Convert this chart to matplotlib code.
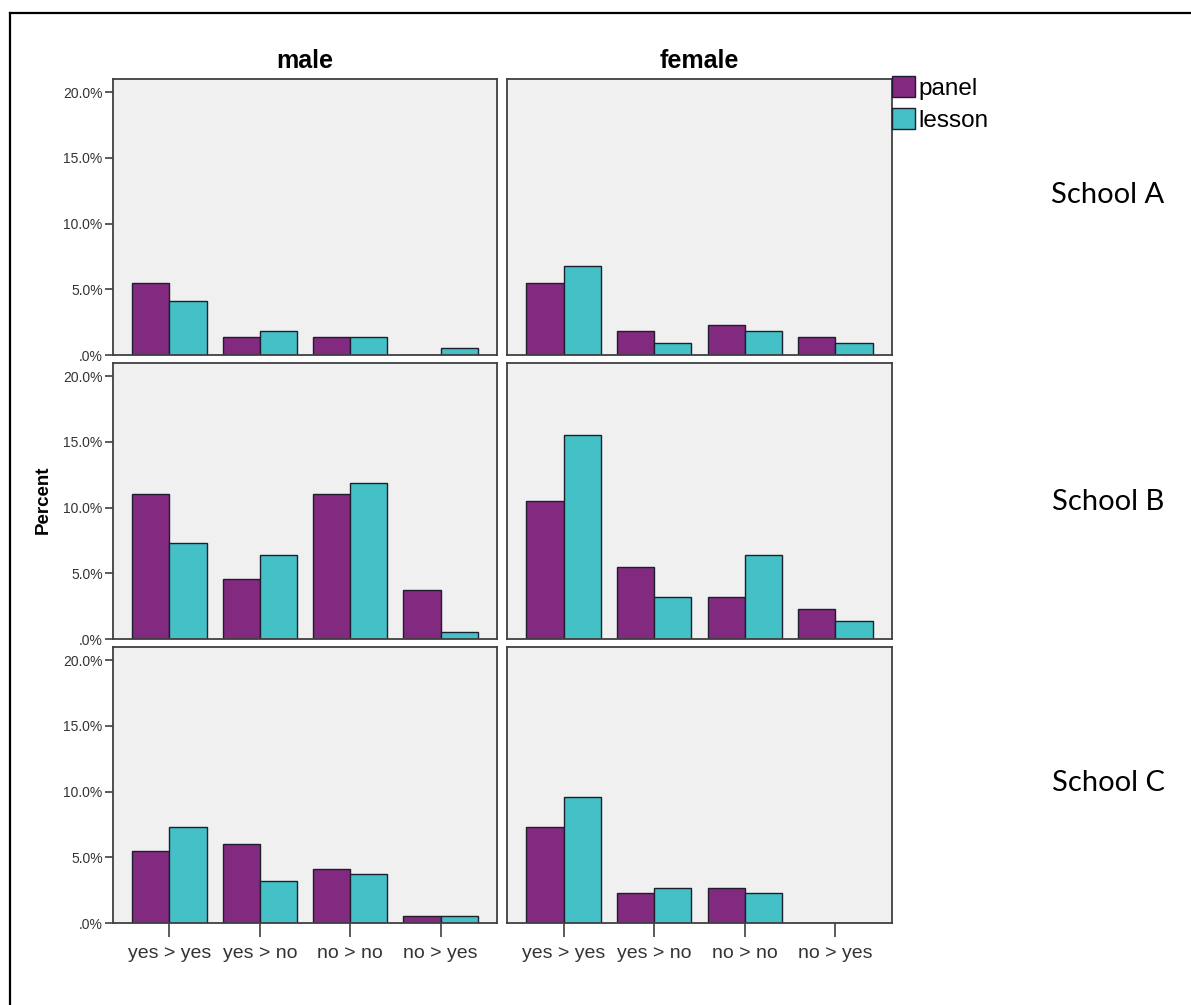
import matplotlib
matplotlib.use("Agg")
import matplotlib.pyplot as plt
from matplotlib.patches import Patch
from matplotlib.lines import Line2D
import numpy as np

# answer change categories on the x axis
categories = ["yes > yes", "yes > no", "no > no", "no > yes"]
genders = ["male", "female"]
schools = ["School A", "School B", "School C"]
yticks = [0, 5, 10, 15, 20]
ytick_labels = [".0%", "5.0%", "10.0%", "15.0%", "20.0%"]

# percent values
panel_male_A = [5.5, 1.4, 1.4, 0.0]
lesson_male_A = [4.1, 1.8, 1.4, 0.5]
panel_female_A = [5.5, 1.8, 2.3, 1.4]
lesson_female_A = [6.8, 0.9, 1.8, 0.9]

panel_male_B = [11.0, 4.6, 11.0, 3.7]
lesson_male_B = [7.3, 6.4, 11.9, 0.5]
panel_female_B = [10.5, 5.5, 3.2, 2.3]
lesson_female_B = [15.5, 3.2, 6.4, 1.4]

panel_male_C = [5.5, 6.0, 4.1, 0.5]
lesson_male_C = [7.3, 3.2, 3.7, 0.5]
panel_female_C = [7.3, 2.3, 2.7, 0.0]
lesson_female_C = [9.6, 2.7, 2.3, 0.0]

panel_vals = [[panel_male_A, panel_female_A],
              [panel_male_B, panel_female_B],
              [panel_male_C, panel_female_C]]
lesson_vals = [[lesson_male_A, lesson_female_A],
               [lesson_male_B, lesson_female_B],
               [lesson_male_C, lesson_female_C]]

purple = "#822a7f"
teal = "#44c1c6"
edge = "#1e1e2e"
bg = "#f0f0f0"

W, H = 1191, 1005
fig = plt.figure(figsize=(W / 100, H / 100), dpi=100)
plt.rcParams["font.family"] = ["Liberation Sans", "DejaVu Sans"]

col_left = [113, 507]
col_w = [384, 385]
row_bottom = [355, 639, 923]
row_h = 276

x = np.arange(len(categories))
bw = 0.41

for r in range(3):
    for c in range(2):
        ax = fig.add_axes([col_left[c] / W, 1 - row_bottom[r] / H,
                           col_w[c] / W, row_h / H])
        ax.set_facecolor(bg)
        ax.bar(x - bw / 2, panel_vals[r][c], bw, color=purple,
               edgecolor=edge, linewidth=1.0)
        ax.bar(x + bw / 2, lesson_vals[r][c], bw, color=teal,
               edgecolor=edge, linewidth=1.0)
        ax.set_xlim(-0.625, 3.625)
        ax.set_ylim(0, 21.0)
        for s in ax.spines.values():
            s.set_color("#404040")
            s.set_linewidth(1.3)
        if c == 0:
            ax.set_yticks(yticks)
            ax.set_yticklabels(ytick_labels, fontsize=10, color="#333333")
            ax.tick_params(axis="y", length=6, width=1.2, color="#404040", pad=1.5)
        else:
            ax.set_yticks([])
        if r == 2:
            ax.set_xticks(x)
            ax.set_xticklabels(categories, fontsize=14, color="#333333")
            ax.tick_params(axis="x", length=10, width=1.2, color="#404040", pad=6)
        else:
            ax.set_xticks([])
        if r == 0:
            ax.set_title(genders[c], fontsize=18, fontweight="bold", pad=8)

fig.text(43 / W, 1 - 500 / H, "Percent", rotation=90, fontsize=13.5,
         fontweight="bold", ha="center", va="center")

# school labels on the right
school_y = [195, 502, 783]
for name, yy in zip(schools, school_y):
    fig.text(1108 / W, 1 - yy / H, name, fontsize=21, family="Lato",
             ha="center", va="center")

handles = [Patch(facecolor=purple, edgecolor=edge, linewidth=1.0),
           Patch(facecolor=teal, edgecolor=edge, linewidth=1.0)]
fig.legend(handles, ["panel", "lesson"], loc="upper left",
           bbox_to_anchor=(892 / W, 1 - 76 / H), frameon=False,
           fontsize=17.5, handlelength=0.95, handleheight=0.95,
           handletextpad=0.15, labelspacing=0.35, borderpad=0,
           borderaxespad=0)

# outer frame lines
fig.add_artist(Line2D([10 / W, 1.0], [1 - 13 / H, 1 - 13 / H], color="black", linewidth=1.6))
fig.add_artist(Line2D([10 / W, 10 / W], [1 - 13 / H, 0.0], color="black", linewidth=1.6))

fig.savefig("out.png", dpi=100, facecolor="white")
